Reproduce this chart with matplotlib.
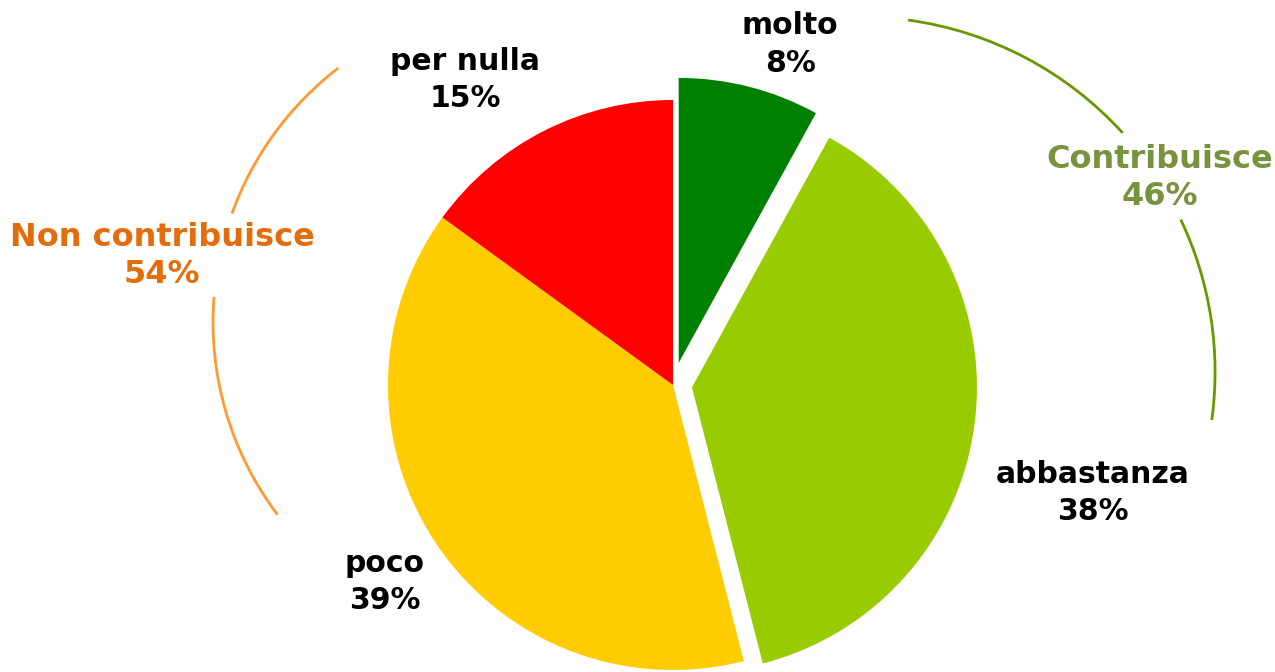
import matplotlib.pyplot as plt
from matplotlib.patches import Arc

# data
categories = ['molto', 'abbastanza', 'poco', 'per nulla']
values = [8, 38, 39, 15]
colors = ['#008000', '#99CC00', '#FFCC00', '#FF0000']
groups = ['Contribuisce', 'Non contribuisce']
group_members = [['molto', 'abbastanza'], ['poco', 'per nulla']]

explode = [0.08, 0.067, 0, 0]
label_pos = {'molto': (0.411, 1.196), 'abbastanza': (1.474, -0.379),
             'poco': (-1.011, -0.691), 'per nulla': (-0.730, 1.070)}

fig = plt.figure(figsize=(12.75, 6.72), dpi=100)
ax = fig.add_axes([0, 0, 1, 1])

ax.pie(values, colors=colors, startangle=90, counterclock=False,
       explode=explode, radius=1, center=(0, 0),
       wedgeprops=dict(linewidth=0))

for name, v in zip(categories, values):
    x, y = label_pos[name]
    ax.text(x, y, f'{name}\n{v}%', ha='center', va='center',
            fontsize=21.5, fontweight='bold', color='black', linespacing=1.38)

# group totals
totals = [sum(values[categories.index(c)] for c in m) for m in group_members]

ax.text(1.709, 0.726, f'{groups[0]}\n{totals[0]}%', ha='center', va='center',
        fontsize=23, fontweight='bold', color='#77933C', linespacing=1.28)
ax.text(-1.793, 0.453, f'{groups[1]}\n{totals[1]}%', ha='center', va='center',
        fontsize=23, fontweight='bold', color='#E46C0A', linespacing=1.28)

# bracket arcs around the groups
for t1, t2 in [(-7.8, 25.4), (42.3, 82.2)]:
    ax.add_patch(Arc((0.656, 0.046), 2 * 1.246, 2 * 1.246, theta1=t1, theta2=t2,
                     color='#669900', lw=2))
for t1, t2 in [(127.5, 160.2), (175.5, 217)]:
    ax.add_patch(Arc((-0.491, 0.221), 2 * 1.123, 2 * 1.123, theta1=t1, theta2=t2,
                     color='#FF9933', lw=2))

ax.set_xlim(-673 / 285, (1275 - 673) / 285)
ax.set_ylim(-(672 - 385) / 285, 385 / 285)
ax.set_aspect('equal')
ax.axis('off')

fig.savefig('out.png', dpi=100)
